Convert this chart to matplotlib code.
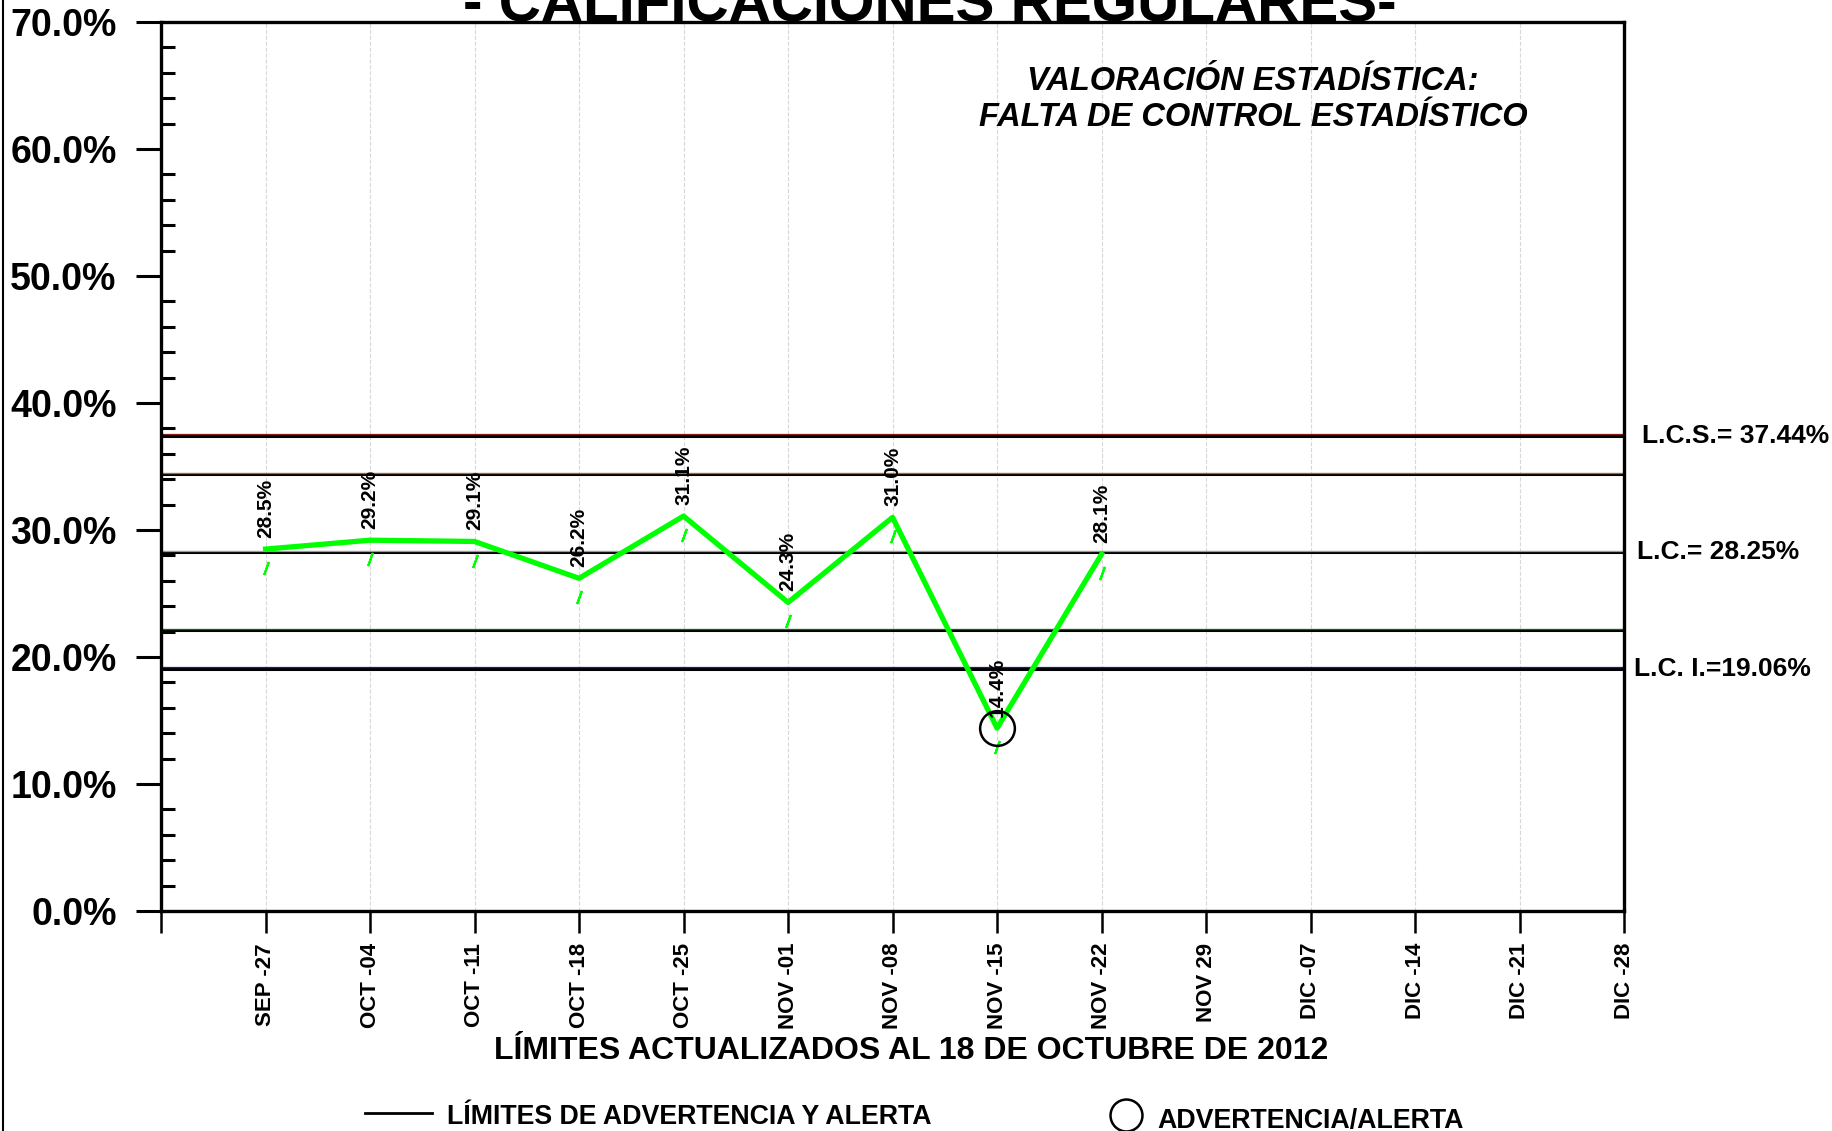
import matplotlib
matplotlib.use("Agg")
import matplotlib.pyplot as plt
from matplotlib.lines import Line2D
import numpy as np

plt.rcParams['font.family'] = ['Liberation Sans', 'DejaVu Sans']
plt.rcParams['font.weight'] = 'bold'

# semanas del eje x
weeks = ['SEP -27', 'OCT -04', 'OCT -11', 'OCT -18', 'OCT -25', 'NOV -01', 'NOV -08',
         'NOV -15', 'NOV -22', 'NOV 29', 'DIC -07', 'DIC -14', 'DIC -21', 'DIC -28']
# porcentaje de calificaciones regulares
values = [28.5, 29.2, 29.1, 26.2, 31.1, 24.3, 31.0, 14.4, 28.1]
alert_weeks = ['NOV -15']

lcs = 37.44
lc = 28.25
lci = 19.06
warn_up = 34.38
warn_low = 22.12
limit_lines = [lcs, warn_up, lc, warn_low, lci]
limit_colors = ['#8b1a1a', '#b5651d', '#9a9a9a', '#0b6b0b', '#1a1a8c']
limit_labels = {lcs: 'L.C.S.= 37.44%', lc: 'L.C.= 28.25%', lci: 'L.C. I.=19.06%'}
label_x = {lcs: 1.012, lc: 1.009, lci: 1.007}

fig = plt.figure(figsize=(18.32, 11.31), dpi=100)
ax = fig.add_axes([0.0879, 0.1945, 0.7986, 0.786])

x = np.arange(1, len(values) + 1)
ax.set_xlim(0, len(weeks))
ax.set_ylim(0, 70)

# lineas de control
for val, col in zip(limit_lines, limit_colors):
    ax.axhline(val, color='black', lw=2.2, zorder=2)
    ax.axhline(val + 0.12, color=col, lw=0.9, zorder=2)
    if val in limit_labels:
        ax.text(label_x[val], val, limit_labels[val], transform=ax.get_yaxis_transform(),
                ha='left', va='center', fontsize=19, fontweight='bold', clip_on=False)

# serie
ax.plot(x, values, color='#00ff00', lw=3.8, zorder=4)
ax.plot(x, np.array(values) - 1.5, ls='none', marker=(2, 2, -20), ms=10, mew=1.5,
        color='#00ff00', zorder=4)
for xi, v in zip(x, values):
    ax.annotate('%.1f%%' % v, (xi, v), xytext=(0, 8), textcoords='offset points',
                rotation=90, ha='center', va='bottom', fontsize=15, fontweight='bold', zorder=5)

# alertas
al_idx = [weeks.index(w) for w in alert_weeks]
ax.plot(x[al_idx], [values[i] for i in al_idx], ls='none', marker='o', ms=25,
        mfc='none', mec='black', mew=1.8, zorder=5)

# ejes
ax.set_xticks(np.arange(0, len(weeks) + 1))
ax.set_xticklabels([''] + weeks, rotation=90, fontsize=16, fontweight='bold', va='top')
ax.tick_params(axis='x', direction='out', length=16, width=1.8, pad=7)
ax.xaxis.grid(True, color='#d8d8d8', ls='--', lw=0.8)
ax.set_axisbelow(True)

ax.set_yticks(np.arange(0, 71, 10))
ax.set_yticklabels(['%.1f%%' % t for t in np.arange(0, 71, 10)], fontsize=27, fontweight='bold')
ax.set_yticks(np.arange(0, 71, 2), minor=True)
ax.tick_params(axis='y', which='major', direction='out', length=18, width=2.2, pad=14)
ax.tick_params(axis='y', which='minor', direction='in', length=10, width=2.2)
for s in ax.spines.values():
    s.set_linewidth(2.4)

ax.set_xlabel('LÍMITES ACTUALIZADOS AL 18 DE OCTUBRE DE 2012', fontsize=23, fontweight='bold',
              labelpad=5, x=0.513)

# titulos
fig.text(0.5076, 0.9814, '- CALIFICACIONES REGULARES-', ha='center', va='baseline',
         fontsize=42, fontweight='bold')
fig.text(0.684, 0.9275, 'VALORACIÓN ESTADÍSTICA:', ha='center', va='center',
         fontsize=23.5, fontweight='bold', fontstyle='italic')
fig.text(0.684, 0.8957, 'FALTA DE CONTROL ESTADÍSTICO', ha='center', va='center',
         fontsize=23.5, fontweight='bold', fontstyle='italic')

# leyenda inferior
fig.add_artist(Line2D([0.199, 0.236], [0.0155, 0.0155], color='black', lw=2, transform=fig.transFigure))
fig.text(0.244, 0.0125, 'LÍMITES DE ADVERTENCIA Y ALERTA', ha='left', va='center', fontsize=19.3, fontweight='bold')
fig.add_artist(Line2D([0.6145], [0.0145], marker='o', ms=23, mfc='none', mec='black', mew=1.8,
                      transform=fig.transFigure))
fig.text(0.6318, 0.0085, 'ADVERTENCIA/ALERTA', ha='left', va='center', fontsize=19.3, fontweight='bold')

# borde izquierdo
fig.add_artist(Line2D([0.0015, 0.0015], [0, 1], color='black', lw=1.5, transform=fig.transFigure))

fig.savefig('out.png', dpi=100)
